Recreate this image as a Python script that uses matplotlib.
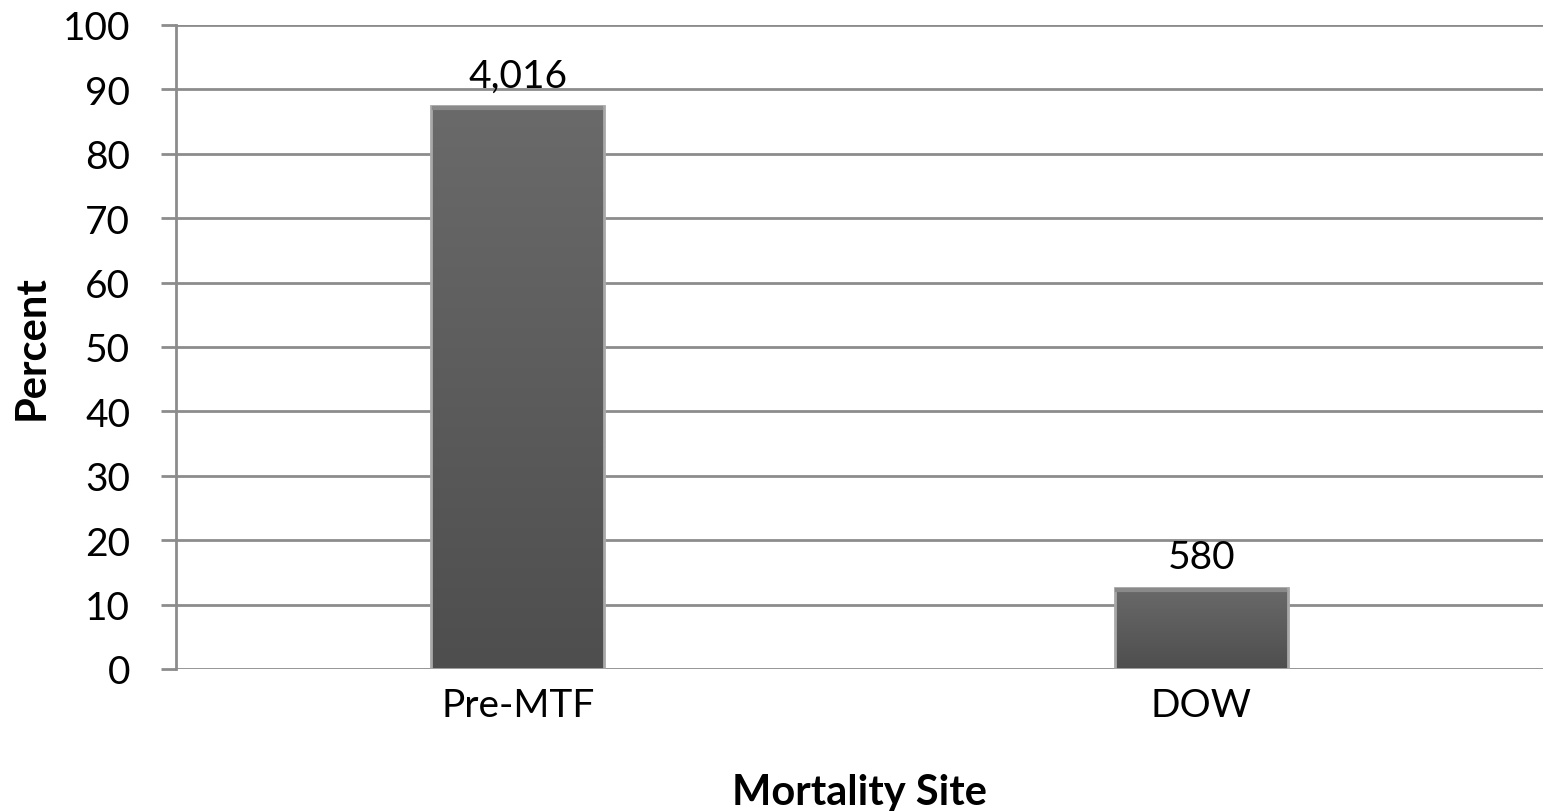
import numpy as np
import matplotlib.pyplot as plt
from matplotlib.patches import Rectangle
from matplotlib.colors import LinearSegmentedColormap

plt.rcParams['font.family'] = ['Lato', 'DejaVu Sans']

categories = ["Pre-MTF", "DOW"]
deaths = [4016, 580]
percent = [87.4, 12.6]
y_ticks = [0, 10, 20, 30, 40, 50, 60, 70, 80, 90, 100]

fig = plt.figure(figsize=(15.49, 8.12), dpi=100)
ax = fig.add_axes([0.1136, 0.1749, 0.8825, 0.7931])

x = np.arange(len(categories))
width = 0.253

ax.set_xlim(-0.5, len(categories) - 0.5)
ax.set_ylim(0, 100)

# horizontal gridlines behind the bars
for yt in y_ticks:
    ax.axhline(yt, color='#8c8c8c', lw=2, zorder=1)

# vertical gradient used to fill each bar
bar_cmap = LinearSegmentedColormap.from_list('bar', ['#4e4e4e', '#6a6a6a'])
grad = np.linspace(0, 1, 256).reshape(-1, 1)
for xi, p in zip(x, percent):
    x0 = xi - width / 2
    rect = Rectangle((x0, 0), width, p, facecolor='none', edgecolor='none')
    ax.add_patch(rect)
    im = ax.imshow(grad, cmap=bar_cmap, origin='lower', aspect='auto',
                   extent=(x0, x0 + width, 0, p), zorder=2)
    im.set_clip_path(rect)
    # light bevel outline
    ax.add_patch(Rectangle((x0, 0), width, p, facecolor='none',
                           edgecolor='#a8a8a8', lw=2, zorder=3))
    ax.plot([x0 + 0.004, x0 + width - 0.004], [p - 0.35, p - 0.35],
            color='#8a8a8a', lw=3, zorder=3)

for xi, p, n in zip(x, percent, deaths):
    ax.annotate(f"{n:,}", (xi, p), xytext=(0, 9), textcoords='offset points',
                ha='center', va='bottom', fontsize=28)

ax.set_xticks(x)
ax.set_xticklabels(categories, fontsize=28)
ax.set_yticks(y_ticks)
ax.tick_params(axis='y', labelsize=28, length=11, width=2, color='#8c8c8c', pad=22)
ax.tick_params(axis='x', length=0, pad=13)

for side in ['top', 'right', 'bottom']:
    ax.spines[side].set_visible(False)
ax.spines['left'].set_color('#8c8c8c')
ax.spines['left'].set_linewidth(2)

ax.set_xlabel("Mortality Site", fontsize=30, fontweight='bold', labelpad=36)
ax.set_ylabel("Percent", fontsize=30, fontweight='bold', labelpad=9)

fig.savefig("out.png", dpi=100)
